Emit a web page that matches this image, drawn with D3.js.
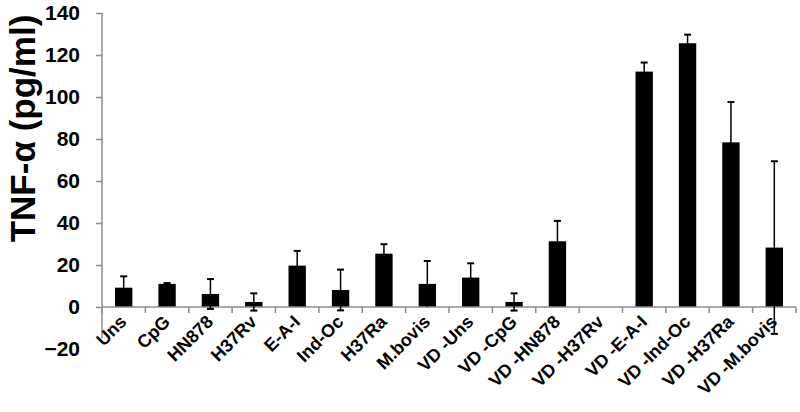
<!DOCTYPE html>
<html>
<head>
<meta charset="utf-8">
<script src="https://cdn.jsdelivr.net/npm/d3@7"></script>
<style>
  body { margin: 0; background: #fff; }
  text { font-family: "Liberation Sans", Arial, sans-serif; font-weight: bold; }
</style>
</head>
<body>
<div id="myChart"></div>
<script>
// values
let categories = ["Uns", "CpG", "HN878", "H37Rv", "E-A-I", "Ind-Oc", "H37Ra", "M.bovis",
                  "VD -Uns", "VD -CpG", "VD -HN878", "VD -H37Rv", "VD -E-A-I", "VD -Ind-Oc", "VD -H37Ra", "VD -M.bovis"];
let means  = [9.2, 11.0, 6.2, 2.4, 19.7, 8.1, 25.4, 11.0, 14.0, 2.4, 31.3, 0, 112.1, 125.6, 78.4, 28.3];
let errors = [5.4, 0.4, 7.1, 4.1, 7.0, 9.7, 4.5, 10.9, 6.8, 4.1, 9.7, 0, 4.3, 4.1, 19.2, 41.1];
let yTicks = [-20, 0, 20, 40, 60, 80, 100, 120, 140];

let data = categories.map((c, i) => ({ name: c, mean: means[i], err: errors[i] }));

let margin = { top: 13, right: 4, bottom: 63, left: 102 },
    width = 800 - margin.left - margin.right,
    height = 412 - margin.top - margin.bottom;

let axisColor = "#8c8c8c";

let svg = d3.select("#myChart").append("svg")
  .attr("width", width + margin.left + margin.right)
  .attr("height", height + margin.top + margin.bottom)
  .append("g")
  .attr("transform", "translate(" + margin.left + "," + margin.top + ")");

let x = d3.scaleBand()
          .domain(categories)
          .range([0, width])
          .padding(0);
let y = d3.scaleLinear()
          .domain([-20, 140])
          .range([height, 0]);

let barW = x.bandwidth() * 0.4;

// y axis
let yAxis = svg.append("g")
  .call(d3.axisLeft(y).tickValues(yTicks).tickSize(6).tickPadding(16).tickSizeOuter(0));
yAxis.select(".domain").remove();
yAxis.selectAll(".tick line").attr("stroke", axisColor).attr("stroke-width", 1.5);
yAxis.selectAll(".tick").filter(d => d === -20).select("line").remove();
yAxis.selectAll(".tick text")
  .attr("fill", "#000")
  .style("font-size", "21px");
yAxis.append("line")
  .attr("x1", 0).attr("x2", 0)
  .attr("y1", y(140)).attr("y2", y(-15))
  .attr("stroke", axisColor)
  .attr("stroke-width", 1.5);

// bars
svg.selectAll(".bar")
  .data(data)
  .enter()
  .append("rect")
  .attr("class", "bar")
  .attr("fill", "#000")
  .attr("x", d => x(d.name) + (x.bandwidth() - barW) / 2)
  .attr("width", barW)
  .attr("y", d => y(Math.max(0, d.mean)))
  .attr("height", d => Math.abs(y(d.mean) - y(0)));

// x axis at zero
let xAxis = svg.append("g")
  .attr("transform", "translate(0," + y(0) + ")");
xAxis.append("line")
  .attr("x1", 0).attr("x2", width)
  .attr("stroke", axisColor)
  .attr("stroke-width", 1.5);
xAxis.selectAll(".xtick")
  .data(categories.concat([null]))
  .enter()
  .append("line")
  .attr("class", "xtick")
  .attr("x1", (d, i) => i * x.step())
  .attr("x2", (d, i) => i * x.step())
  .attr("y1", 0).attr("y2", 6)
  .attr("stroke", axisColor)
  .attr("stroke-width", 1.5);

// error bars
let eb = svg.selectAll(".err")
  .data(data.filter(d => d.err > 0))
  .enter()
  .append("g")
  .attr("class", "err")
  .attr("transform", d => "translate(" + (x(d.name) + x.bandwidth() / 2) + ",0)");
eb.append("line")
  .attr("y1", d => y(d.mean - d.err))
  .attr("y2", d => y(d.mean + d.err))
  .attr("stroke", "#000")
  .attr("stroke-width", 1.5);
eb.append("line")
  .attr("x1", -3.5).attr("x2", 3.5)
  .attr("y1", d => y(d.mean + d.err))
  .attr("y2", d => y(d.mean + d.err))
  .attr("stroke", "#000")
  .attr("stroke-width", 2);
eb.filter(d => d.mean - d.err < 0).append("line")
  .attr("x1", -3.5).attr("x2", 3.5)
  .attr("y1", d => y(d.mean - d.err))
  .attr("y2", d => y(d.mean - d.err))
  .attr("stroke", "#000")
  .attr("stroke-width", 2);

// category labels, rotated 45 degrees
svg.selectAll(".xlabel")
  .data(categories)
  .enter()
  .append("text")
  .attr("class", "xlabel")
  .attr("text-anchor", "end")
  .attr("transform", d => "translate(" + (x(d) + x.bandwidth() / 2 + 4) + "," + (y(0) + 16) + ") rotate(-45)")
  .style("font-size", "18px")
  .attr("fill", "#000")
  .text(d => d);

// y title
svg.append("text")
  .attr("transform", "translate(" + (-margin.left + 35) + "," + y(85) + ") rotate(-90)")
  .attr("text-anchor", "middle")
  .style("font-size", "35px")
  .attr("fill", "#000")
  .text("TNF-α (pg/ml)");
</script>
</body>
</html>
